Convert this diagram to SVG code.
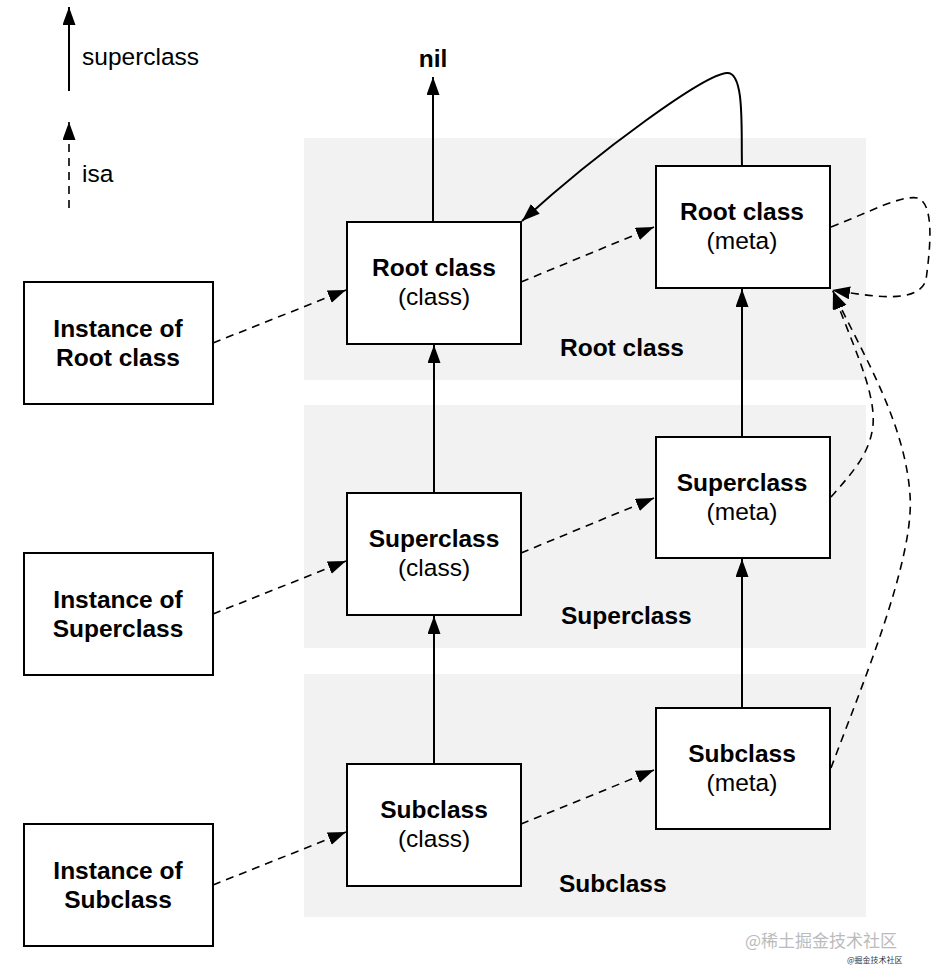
<svg xmlns="http://www.w3.org/2000/svg" width="933" height="977" viewBox="0 0 933 977">
<defs>
<marker id="ah" markerUnits="userSpaceOnUse" markerWidth="19" markerHeight="14" refX="18" refY="6.5" orient="auto">
<path d="M0,0 L18,6.5 L0,13 z" fill="#000"/>
</marker>
<style>
.band{fill:#f2f2f2}
.box{fill:#fff;stroke:#000;stroke-width:2}
.t{font-family:"Liberation Sans",Arial,sans-serif;font-size:24.5px;fill:#000;text-anchor:middle}
.b{font-weight:bold}
.l{font-family:"Liberation Sans",Arial,sans-serif;font-size:24.5px;fill:#000}
.sup{fill:none;stroke:#000;stroke-width:2;marker-end:url(#ah)}
.isa{fill:none;stroke:#000;stroke-width:1.6;stroke-dasharray:8 6;marker-end:url(#ah)}
</style>
</defs>
<rect width="933" height="977" fill="#fff"/>
<g id="bands">
<rect class="band" x="304" y="138" width="562" height="242"/>
<rect class="band" x="304" y="405" width="562" height="243"/>
<rect class="band" x="304" y="674" width="562" height="243"/>
<text class="l b" x="560" y="356">Root class</text>
<text class="l b" x="561" y="624">Superclass</text>
<text class="l b" x="559" y="892">Subclass</text>
</g>
<g id="legend">
<line class="sup" x1="69" y1="91" x2="69" y2="7"/>
<text class="l" x="82" y="65">superclass</text>
<line class="isa" x1="69" y1="208" x2="69" y2="122"/>
<text class="l" x="82" y="182">isa</text>
</g>
<g id="connectors">
<line class="sup" x1="433" y1="221" x2="433" y2="77"/>
<line class="sup" x1="434" y1="492" x2="434" y2="345"/>
<line class="sup" x1="434" y1="763" x2="434" y2="616"/>
<line class="sup" x1="742" y1="436" x2="742" y2="289"/>
<line class="sup" x1="742" y1="707" x2="742" y2="559"/>
<path class="sup" d="M742,166 C741,130 745,72 727,73 C705,74 600,150 522,221"/>
<line class="isa" x1="213" y1="343" x2="346" y2="290"/>
<line class="isa" x1="213" y1="614" x2="346" y2="561"/>
<line class="isa" x1="213" y1="885" x2="346" y2="832"/>
<line class="isa" x1="521" y1="282" x2="654" y2="227"/>
<line class="isa" x1="521" y1="553" x2="654" y2="498"/>
<line class="isa" x1="521" y1="824" x2="654" y2="770"/>
<path class="isa" d="M831,227 C870,212 900,195 918,198 C935,205 930,250 926,280 C918,305 870,296 832,290"/>
<path class="isa" d="M831,497 C850,475 870,455 873,425 C876,390 850,340 833,291"/>
<path class="isa" d="M831,768 C860,690 915,560 910,495 C905,420 860,350 833,291"/>
</g>
<g id="nil"><text class="t b" x="433" y="67">nil</text></g>
<g id="root-class">
<rect class="box" x="347" y="222" width="174" height="122"/>
<text class="t b" x="434" y="276">Root class</text>
<text class="t" x="434" y="305">(class)</text>
</g>
<g id="root-meta">
<rect class="box" x="656" y="166" width="174" height="122"/>
<text class="t b" x="742" y="220">Root class</text>
<text class="t" x="742" y="249">(meta)</text>
</g>
<g id="super-class">
<rect class="box" x="347" y="493" width="174" height="122"/>
<text class="t b" x="434" y="547">Superclass</text>
<text class="t" x="434" y="576">(class)</text>
</g>
<g id="super-meta">
<rect class="box" x="656" y="437" width="174" height="121"/>
<text class="t b" x="742" y="491">Superclass</text>
<text class="t" x="742" y="520">(meta)</text>
</g>
<g id="sub-class">
<rect class="box" x="347" y="764" width="174" height="122"/>
<text class="t b" x="434" y="818">Subclass</text>
<text class="t" x="434" y="847">(class)</text>
</g>
<g id="sub-meta">
<rect class="box" x="656" y="708" width="174" height="121"/>
<text class="t b" x="742" y="762">Subclass</text>
<text class="t" x="742" y="791">(meta)</text>
</g>
<g id="inst-root">
<rect class="box" x="24" y="282" width="189" height="122"/>
<text class="t b" x="118" y="337">Instance of</text>
<text class="t b" x="118" y="366">Root class</text>
</g>
<g id="inst-super">
<rect class="box" x="24" y="553" width="189" height="122"/>
<text class="t b" x="118" y="608">Instance of</text>
<text class="t b" x="118" y="637">Superclass</text>
</g>
<g id="inst-sub">
<rect class="box" x="24" y="824" width="189" height="122"/>
<text class="t b" x="118" y="879">Instance of</text>
<text class="t b" x="118" y="908">Subclass</text>
</g>
<g id="watermark">
<text x="745" y="947" font-family="'Noto Sans CJK SC',sans-serif" font-size="17" fill="#bbbbbb">@稀土掘金技术社区</text>
<text x="847" y="963" font-family="'Noto Sans CJK SC',sans-serif" font-size="8" fill="#333333">@掘金技术社区</text>
</g>
</svg>
